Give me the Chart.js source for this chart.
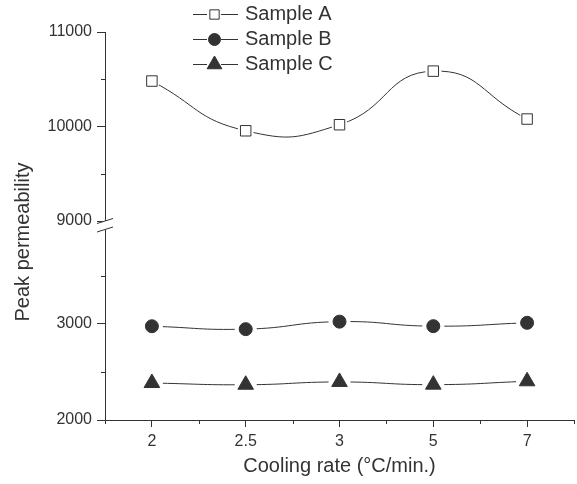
<!DOCTYPE html>
<html>
<head>
<meta charset="utf-8">
<script src="https://cdn.jsdelivr.net/npm/chart.js@4/dist/chart.umd.min.js"></script>
<style>
  html, body { margin: 0; padding: 0; background: #fff; }
  #wrap { width: 577px; height: 484px; }
</style>
</head>
<body>
<div id="wrap"><canvas id="chart" width="577" height="484"></canvas></div>
<script>
"use strict";

const categories = ["2", "2.5", "3", "5", "7"];
const seriesNames = ["Sample A", "Sample B", "Sample C"];
const sampleA = [10481, 9955, 10019, 10586, 10079];
const sampleB = [2976, 2946, 3024, 2977, 3012];
const sampleC = [2385, 2367, 2396, 2368, 2403];
const labelledTicks = [2000, 3000, 9000, 10000, 11000];
const upperRange = [8958, 11000];
const lowerRange = [2000, 4030];
const tickStep = 500;

const ink = "#333";
const markerStyles = ["rect", "circle", "triangle"];
const markerRadius = [7.4, 6.5, 9];
const haloRadius = [8, 11, 11];

function drawMarker(ctx, style, x, y, r, fill) {
  ctx.beginPath();
  if (style === "rect") {
    const s = Math.SQRT1_2 * r;
    ctx.rect(x - s, y - s, 2 * s, 2 * s);
  } else if (style === "circle") {
    ctx.arc(x, y, r, 0, Math.PI * 2);
  } else {
    let a = 0;
    ctx.moveTo(x + Math.sin(a) * r, y - Math.cos(a) * r);
    a += (2 * Math.PI) / 3;
    ctx.lineTo(x + Math.sin(a) * r, y - Math.cos(a) * r);
    a += (2 * Math.PI) / 3;
    ctx.lineTo(x + Math.sin(a) * r, y - Math.cos(a) * r);
    ctx.closePath();
  }
  ctx.fillStyle = fill;
  ctx.fill();
  ctx.lineWidth = 1;
  ctx.strokeStyle = ink;
  ctx.stroke();
}

const extras = {
  id: "extras",
  afterDatasetsDraw(chart) {
    // white gap between curve and symbol
    const ctx = chart.ctx;
    chart.data.datasets.forEach((ds, i) => {
      const meta = chart.getDatasetMeta(i);
      meta.data.forEach((pt) => {
        ctx.save();
        ctx.beginPath();
        ctx.arc(pt.x, pt.y, haloRadius[i], 0, Math.PI * 2);
        ctx.fillStyle = "#fff";
        ctx.fill();
        ctx.restore();
        pt.draw(ctx, chart.chartArea);
      });
    });
  },
  afterDraw(chart) {
    const ctx = chart.ctx;
    const x = chart.scales.x;
    const hi = chart.scales.yHigh;
    const lo = chart.scales.yLow;
    const axisX = hi.right;
    ctx.save();
    ctx.strokeStyle = ink;
    ctx.lineWidth = 1;

    // minor ticks
    ctx.beginPath();
    [hi, lo].forEach((s) => {
      s.ticks.forEach((t) => {
        if (t.value % 1000 !== 0) {
          const py = Math.round(s.getPixelForValue(t.value)) + 0.5;
          ctx.moveTo(axisX - 4, py);
          ctx.lineTo(axisX, py);
        }
      });
    });
    const half = (x.getPixelForValue(1) - x.getPixelForValue(0)) / 2;
    for (let i = 0; i <= categories.length; i++) {
      const px = Math.round(x.getPixelForValue(i) - half) + 0.5;
      ctx.moveTo(px, x.top);
      ctx.lineTo(px, x.top + 4);
    }
    ctx.stroke();

    // axis break
    const b = hi.bottom;
    const y1 = b - 4, y2 = b + 4.5;
    ctx.beginPath();
    ctx.moveTo(axisX - 8, y1 + 2.5);
    ctx.lineTo(axisX + 8, y1 - 2.5);
    ctx.lineTo(axisX + 8, y2 - 2.5);
    ctx.lineTo(axisX - 8, y2 + 2.5);
    ctx.closePath();
    ctx.fillStyle = "#fff";
    ctx.fill();
    ctx.beginPath();
    ctx.moveTo(axisX - 8, y1 + 2.5);
    ctx.lineTo(axisX + 8, y1 - 2.5);
    ctx.moveTo(axisX - 8, y2 + 2.5);
    ctx.lineTo(axisX + 8, y2 - 2.5);
    ctx.stroke();

    // y title
    ctx.fillStyle = ink;
    ctx.font = "20px 'Liberation Sans', Arial, sans-serif";
    ctx.textAlign = "center";
    ctx.textBaseline = "middle";
    ctx.translate(23, 242);
    ctx.rotate(-Math.PI / 2);
    ctx.fillText("Peak permeability", 0, 0);
    ctx.restore();

    // legend
    ctx.save();
    const rows = [14, 39, 64];
    seriesNames.forEach((name, i) => {
      const ry = rows[i] + 0.5;
      ctx.strokeStyle = ink;
      ctx.lineWidth = 1;
      ctx.beginPath();
      ctx.moveTo(193, ry);
      ctx.lineTo(238, ry);
      ctx.stroke();
      ctx.fillStyle = "#fff";
      ctx.fillRect(207, ry - 8, 14, 16);
      drawMarker(ctx, markerStyles[i], 214.5, ry, i === 0 ? 6.6 : markerRadius[i] - 0.5, i === 0 ? "#fff" : ink);
      ctx.fillStyle = ink;
      ctx.font = "20px 'Liberation Sans', Arial, sans-serif";
      ctx.textAlign = "left";
      ctx.textBaseline = "middle";
      ctx.fillText(name, 245, rows[i]);
    });
    ctx.restore();
  },
};

function yAxis(range, weight) {
  return {
    type: "linear",
    position: "left",
    stack: "y",
    stackWeight: weight,
    min: range[0],
    max: range[1],
    afterBuildTicks: (scale) => {
      const ticks = [];
      for (let v = Math.ceil(range[0] / tickStep) * tickStep; v <= range[1] - tickStep / 2; v += tickStep) {
        ticks.push({ value: v });
      }
      if (range[1] % 1000 === 0) ticks.push({ value: range[1] });
      scale.ticks = ticks;
    },
    afterFit: (scale) => {
      scale.width = 105;
    },
    border: { color: ink, width: 1 },
    grid: {
      drawOnChartArea: false,
      tickLength: 8,
      tickColor: (c) => (c.tick && labelledTicks.includes(c.tick.value) ? ink : "rgba(0,0,0,0)"),
    },
    ticks: {
      color: ink,
      padding: 5,
      font: { size: 16, family: "'Liberation Sans', Arial, sans-serif" },
      callback: (v) => (labelledTicks.includes(v) ? String(v) : ""),
    },
  };
}

const datasetStyle = (i) => ({
  borderColor: ink,
  borderWidth: 1,
  tension: 0.5,
  pointStyle: markerStyles[i],
  pointRadius: markerRadius[i],
  pointBackgroundColor: i === 0 ? "#fff" : ink,
  pointBorderColor: ink,
  pointBorderWidth: 1,
});

new Chart(document.getElementById("chart"), {
  type: "line",
  data: {
    labels: categories,
    datasets: [
      { label: seriesNames[0], data: sampleA, yAxisID: "yHigh", ...datasetStyle(0) },
      { label: seriesNames[1], data: sampleB, yAxisID: "yLow", ...datasetStyle(1) },
      { label: seriesNames[2], data: sampleC, yAxisID: "yLow", ...datasetStyle(2) },
    ],
  },
  options: {
    responsive: false,
    animation: false,
    devicePixelRatio: 1,
    layout: { autoPadding: false, padding: { top: 32, right: 3, left: 0, bottom: 0 } },
    plugins: {
      legend: { display: false },
      tooltip: { enabled: false },
    },
    scales: {
      x: {
        type: "category",
        offset: true,
        afterFit: (scale) => {
          scale.height = 64;
        },
        border: { color: ink, width: 1 },
        grid: { drawOnChartArea: false, offset: false, tickLength: 7, tickColor: ink },
        ticks: {
          color: ink,
          padding: 5,
          font: { size: 16, family: "'Liberation Sans', Arial, sans-serif" },
        },
        title: {
          display: true,
          text: "Cooling rate (°C/min.)",
          color: ink,
          padding: { top: 4, bottom: 6 },
          font: { size: 20, family: "'Liberation Sans', Arial, sans-serif" },
        },
      },
      yLow: yAxis(lowerRange, 195),
      yHigh: yAxis(upperRange, 193),
    },
  },
  plugins: [extras],
});
</script>
</body>
</html>
